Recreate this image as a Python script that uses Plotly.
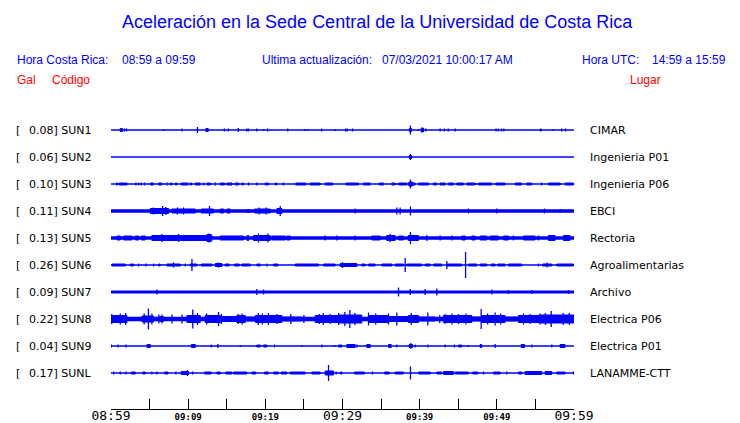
import plotly.graph_objects as go

# ---------------- data (time in minutes after 08:59, heights in px) ----------------
STATIONS = ["SUN1", "SUN2", "SUN3", "SUN4", "SUN5", "SUN6", "SUN7", "SUN8", "SUN9", "SUNL"]
GAL = ["0.08", "0.06", "0.10", "0.11", "0.13", "0.26", "0.09", "0.22", "0.04", "0.17"]
PLACES = ["CIMAR", "Ingenieria P01", "Ingenieria P06", "EBCI", "Rectoria",
          "Agroalimentarias", "Archivo", "Electrica P06", "Electrica P01", "LANAMME-CTT"]
NOISE_PX = [1.3, 1.3, 1.3, 3.3, 3.3, 1.3, 3.0, 4.5, 1.3, 1.3]

TICK_MIN = [0, 5, 10, 15, 20, 25, 30, 35, 40, 45, 50, 55, 60]
TICK_TEXT = ["08:59", "", "09:09", "", "09:19", "", "09:29", "", "09:39", "", "09:49", "", "09:59"]
TICK_BIG = [True, False, False, False, False, False, True, False, False, False, False, False, True]

SUN1_BLOCKS = [[1.2, 1.5, 4], [12.3, 12.6, 4], [38.65, 38.95, 4], [40.2, 40.5, 5], [55.6, 55.8, 3]]
SUN1_SPIKES = [[1.76, 3], [2.02, 3], [6.8, 2], [9.2, 3], [11.2, 6], [14.7, 3], [15.2, 3], [16.5, 4],
               [17.6, 3], [17.8, 3], [18.9, 3], [19.8, 2], [20.3, 3], [22.9, 3], [25.1, 2], [25.5, 2],
               [27.3, 3], [29.1, 2], [30.4, 3], [30.6, 3], [31.3, 3], [38.8, 9], [39.8, 2], [40.8, 3],
               [42.65, 3], [43.2, 3], [43.7, 3], [44.6, 3], [49.9, 3], [50.2, 3], [50.6, 3], [50.9, 3],
               [57.3, 2], [58.4, 3], [58.9, 3]]

SUN2_BLOCKS = [[38.65, 38.95, 4]]
SUN2_SPIKES = [[38.8, 6]]

SUN3_BLOCKS = [[0.7, 0.85, 3], [1.07, 2.07, 3], [5.09, 5.52, 3], [6.17, 6.6, 3], [7.68, 7.9, 3],
               [8.33, 8.54, 3], [9.1, 9.97, 3], [10.27, 10.49, 3], [10.92, 11.57, 3], [12.43, 12.86, 3],
               [14.16, 14.72, 3], [15.02, 15.67, 3], [16.1, 16.53, 3], [16.96, 17.18, 3], [19.98, 20.42, 3],
               [21.28, 21.5, 3], [23.96, 25.25, 3], [25.81, 27.1, 3], [27.76, 28.75, 3], [30.43, 32.07, 3],
               [32.72, 33.59, 3], [34.75, 35.31, 3], [36.39, 36.82, 3], [37.26, 38.34, 3], [38.6, 39.1, 5],
               [39.1, 39.42, 3], [39.85, 41.14, 3], [41.79, 42.22, 3], [42.65, 43.3, 3], [43.73, 44.38, 3],
               [44.81, 45.68, 3], [46.11, 47.19, 3], [47.62, 49.35, 3], [49.86, 51.07, 3], [52.37, 53.23, 3],
               [53.88, 54.53, 3], [56.69, 58.2, 3], [58.84, 59.92, 3]]
SUN3_SPIKES = [[3.23, 3], [3.58, 3], [3.92, 3], [4.35, 3], [7.25, 3], [12.0, 3], [13.51, 3], [17.83, 3],
               [18.9, 3], [22.36, 3], [55.82, 3], [38.8, 9]]

SUN4_BLOCKS = [[5.09, 7.46, 6], [7.9, 10.92, 5], [11.7, 13.29, 5], [14.16, 14.59, 5], [15.02, 15.45, 5],
               [17.61, 17.91, 4], [18.6, 20.63, 5], [21.5, 22.14, 6]]
SUN4_SPIKES = [[5.5, 7], [6.69, 10], [7.1, 8], [8.6, 7], [9.4, 7], [12.77, 10], [19.2, 7], [20.1, 7],
               [21.93, 10], [31.64, 5], [37.04, 7], [37.47, 7], [38.81, 9],
               [46.32, 5], [49.99, 5], [56.17, 5], [58.2, 4]]

SUN5_BLOCKS = [[0.77, 1.2, 5], [1.63, 2.71, 5], [3.15, 3.58, 5], [3.92, 4.44, 5], [5.3, 13.08, 6],
               [12.43, 12.99, 8], [14.16, 17.18, 5], [17.64, 17.84, 6], [18.47, 20.63, 6], [20.85, 22.58, 5],
               [22.79, 23.22, 5], [33.8, 34.88, 5], [35.74, 36.82, 6], [37.26, 37.9, 5], [38.55, 39.85, 6],
               [45.46, 45.89, 5], [46.76, 47.19, 5], [47.84, 48.7, 5], [49.13, 50.21, 5], [50.86, 51.5, 5],
               [53.45, 54.96, 5], [56.69, 57.55, 6], [58.63, 59.49, 6]]
SUN5_SPIKES = [[6.6, 8], [8.76, 8], [12.7, 9], [19.12, 9], [20.33, 9], [27.76, 5], [29.27, 5], [31.64, 5],
               [36.18, 8], [38.81, 12], [40.93, 6], [42.65, 5], [44.17, 5], [52.15, 5], [55.39, 5]]

SUN6_BLOCKS = [[0.12, 1.85, 3], [2.5, 2.93, 3], [6.17, 6.38, 3], [7.25, 8.97, 3], [10.27, 11.13, 3],
               [11.7, 13.08, 3], [13.51, 14.37, 4], [14.8, 15.32, 3], [16.01, 16.62, 3], [16.96, 18.04, 3],
               [18.9, 19.34, 3], [21.06, 21.63, 3], [23.87, 26.89, 3], [27.54, 29.05, 3], [29.7, 31.86, 4],
               [32.5, 32.94, 3], [33.37, 34.23, 3], [35.1, 36.39, 3], [36.82, 37.9, 3], [38.34, 40.28, 3],
               [40.71, 41.36, 3], [41.79, 42.87, 3], [43.52, 45.46, 3], [46.32, 47.4, 3], [47.84, 48.7, 3],
               [49.26, 49.78, 3], [50.12, 51.07, 3], [51.5, 53.23, 3], [55.91, 57.12, 3], [57.77, 59.92, 3]]
SUN6_SPIKES = [[3.58, 3], [4.53, 3], [5.52, 3], [8.1, 5], [9.62, 3], [10.49, 12], [13.9, 5], [20.2, 3],
               [30.0, 6], [38.12, 14], [43.52, 8], [45.95, 26], [55.39, 3], [56.5, 5]]

SUN7_BLOCKS = []
SUN7_SPIKES = [[5.95, 5], [18.9, 6], [19.77, 5], [37.26, 9], [38.77, 6], [40.71, 6], [42.22, 7],
               [49.35, 5], [51.5, 4], [54.53, 4], [59.28, 4]]

SUN8_BLOCKS = [[0.0, 2.07, 8], [4.01, 5.52, 7], [6.3, 6.8, 6], [9.84, 11.57, 8], [12.2, 14.16, 8],
               [14.16, 16.31, 6], [16.31, 17.4, 8], [17.4, 18.7, 5], [18.7, 22.14, 8], [22.14, 23.87, 5],
               [23.87, 24.73, 5], [26.46, 29.48, 8], [29.48, 32.5, 9], [33.37, 35.96, 8], [35.96, 38.55, 6],
               [38.55, 39.85, 8], [39.85, 42.0, 5], [43.09, 46.76, 8], [46.76, 48.05, 5], [48.05, 51.07, 8],
               [51.07, 52.8, 5], [52.8, 55.39, 8], [55.39, 57.98, 9], [57.98, 60.0, 9]]
SUN8_SPIKES = [[0.1, 10], [1.2, 11], [1.9, 12], [4.3, 11], [4.85, 21], [5.3, 11], [6.2, 9], [6.6, 9],
               [7.9, 9], [9.2, 9], [10.6, 19], [11.2, 12], [12.4, 11], [13.94, 14], [14.3, 10], [16.5, 10],
               [17.0, 11], [19.1, 12], [19.6, 11], [20.4, 12], [21.5, 10], [23.3, 10], [25.0, 8],
               [27.0, 10], [27.5, 12], [28.4, 10], [29.5, 12], [30.3, 14], [30.95, 18], [31.6, 12],
               [33.37, 13], [34.3, 11], [35.96, 11], [37.04, 13], [38.9, 12], [41.06, 13], [42.6, 8],
               [43.3, 10], [44.2, 11], [45.03, 10], [46.0, 11], [47.97, 20], [48.8, 11], [49.78, 13],
               [50.5, 11], [53.45, 11], [54.3, 10], [55.6, 11], [56.3, 12], [57.05, 16], [58.6, 12],
               [59.4, 12]]

SUN9_BLOCKS = [[4.66, 5.09, 4], [10.4, 10.92, 4], [18.9, 19.34, 3], [19.77, 20.2, 3], [29.48, 29.92, 3],
               [30.56, 31.64, 4], [33.15, 33.59, 4], [35.96, 36.31, 4], [38.64, 39.07, 4], [45.03, 45.46, 3],
               [47.84, 48.05, 4], [53.15, 53.58, 4], [58.2, 58.84, 4]]
SUN9_SPIKES = [[0.04, 3], [0.9, 3], [1.94, 3], [12.99, 3], [13.85, 4], [16.75, 2], [21.19, 3], [24.73, 2],
               [27.33, 3], [28.97, 2], [31.86, 3], [37.04, 3], [38.85, 6], [39.42, 3], [41.06, 3],
               [43.3, 3], [44.51, 3], [46.32, 2], [49.78, 4], [54.53, 3], [57.12, 3]]

SUNL_BLOCKS = [[2.63, 3.15, 3], [4.1, 4.44, 3], [6.95, 7.38, 3], [9.1, 10.05, 4], [12.13, 12.99, 3],
               [13.72, 14.16, 3], [14.89, 15.67, 3], [15.88, 17.61, 3], [18.26, 18.78, 3], [19.9, 20.42, 3],
               [21.06, 21.71, 3], [22.06, 22.79, 3], [23.22, 25.17, 3], [26.03, 27.11, 3], [27.76, 28.84, 5],
               [29.7, 29.92, 3], [31.56, 32.85, 3], [35.44, 36.05, 3], [36.82, 37.9, 3], [39.85, 41.36, 3],
               [42.22, 42.87, 3], [43.09, 44.38, 4], [44.6, 46.32, 3], [46.88, 47.53, 3], [49.56, 50.43, 3],
               [52.8, 53.23, 3], [53.66, 55.82, 4], [56.26, 57.12, 4], [57.77, 58.84, 3]]
SUNL_SPIKES = [[0.34, 3], [1.2, 3], [1.94, 3], [5.3, 3], [5.95, 3], [8.41, 3], [9.9, 6], [10.57, 3],
               [28.19, 16], [29.18, 3], [33.89, 3], [38.81, 13], [48.27, 3], [51.29, 3], [59.92, 3]]

BLOCKS = [SUN1_BLOCKS, SUN2_BLOCKS, SUN3_BLOCKS, SUN4_BLOCKS, SUN5_BLOCKS,
          SUN6_BLOCKS, SUN7_BLOCKS, SUN8_BLOCKS, SUN9_BLOCKS, SUNL_BLOCKS]
SPIKES = [SUN1_SPIKES, SUN2_SPIKES, SUN3_SPIKES, SUN4_SPIKES, SUN5_SPIKES,
          SUN6_SPIKES, SUN7_SPIKES, SUN8_SPIKES, SUN9_SPIKES, SUNL_SPIKES]

# ---------------- layout geometry ----------------
W, H = 740, 423
X0, X1 = 111, 574          # pixel span of the time axis
YTOP, YBOT = 110, 409      # pixel span of the plot area (y data == pixel row)
ROW0, ROWSTEP = 130, 27
BLUE = "#0000ff"
RED = "#ff0000"


def px_x(p):
    return (p - X0) / (X1 - X0)


def px_y(p):
    return (YBOT - p) / (YBOT - YTOP)


fig = go.Figure()

for i, code in enumerate(STATIONS):
    yc = ROW0 + ROWSTEP * i
    fig.add_trace(go.Scatter(x=[0, 60.1], y=[yc, yc], mode="lines",
                             line=dict(color=BLUE, width=NOISE_PX[i]), hoverinfo="skip"))
    bx, by = [], []
    for t0, t1, h in BLOCKS[i]:
        if t1 - t0 < 0.1:
            t1 = t0 + 0.1
        hh = max(h - 1, 0.5) / 2
        bx += [t0, t1, t1, t0, t0, None]
        by += [yc - hh, yc - hh, yc + hh, yc + hh, yc - hh, None]
    if bx:
        fig.add_trace(go.Scatter(x=bx, y=by, mode="lines", fill="toself", fillcolor=BLUE,
                                 line=dict(color=BLUE, width=1), hoverinfo="skip"))
    sx, sy = [], []
    for t, h in SPIKES[i]:
        sx += [t, t, None]
        sy += [yc - h / 2, yc + h / 2, None]
    fig.add_trace(go.Scatter(x=sx, y=sy, mode="lines",
                             line=dict(color=BLUE, width=1.3), hoverinfo="skip"))

ann = []


def text(px, py, s, color="black", size=11, family="DejaVu Sans", anchor="left"):
    ann.append(dict(x=px_x(px), y=px_y(py), xref="paper", yref="paper", text=s, showarrow=False,
                    xanchor=anchor, yanchor="middle", font=dict(color=color, size=size, family=family)))


text(377, 22, "Aceleración en la Sede Central de la Universidad de Costa Rica",
     BLUE, 18, "Liberation Sans", "center")
text(15, 60, "Hora Costa Rica:", BLUE, 12, "Liberation Sans")
text(120, 60, "08:59 a 09:59", BLUE, 12, "Liberation Sans")
text(260, 60, "Ultima actualización:", BLUE, 12, "Liberation Sans")
text(380, 60, "07/03/2021 10:00:17 AM", BLUE, 12, "Liberation Sans")
text(580, 60, "Hora UTC:", BLUE, 12, "Liberation Sans")
text(650, 60, "14:59 a 15:59", BLUE, 12, "Liberation Sans")
text(15, 80, "Gal", RED, 12, "Liberation Sans")
text(50, 80, "Código", RED, 12, "Liberation Sans")
text(628, 80, "Lugar", RED, 12, "Liberation Sans")

for i, code in enumerate(STATIONS):
    yc = ROW0 + ROWSTEP * i
    text(14, yc, "[")
    text(27, yc, GAL[i] + "] " + code)
    text(588, yc, PLACES[i])

for a in ann:
    fig.add_annotation(**a)

ticktext = []
for lab, big in zip(TICK_TEXT, TICK_BIG):
    if lab == "" or big:
        ticktext.append(lab)
    else:
        ticktext.append('<span style="font-size:9px"><b>' + lab + '</b></span>')

fig.update_layout(
    width=W, height=H, margin=dict(l=X0, r=W - X1, t=YTOP, b=H - YBOT, pad=0),
    paper_bgcolor="white", plot_bgcolor="white", showlegend=False,
    xaxis=dict(range=[0, 60], tickvals=TICK_MIN, ticktext=ticktext, ticks="inside", ticklen=10,
               tickcolor="black", tickwidth=1, showline=True, linecolor="black", linewidth=1,
               showgrid=False, zeroline=False, fixedrange=True, automargin=False,
               ticklabelstandoff=-6,
               tickfont=dict(family="DejaVu Sans Mono", size=13, color="black")),
    yaxis=dict(range=[YBOT, YTOP], visible=False, fixedrange=True, automargin=False),
)

fig.write_html("out.html", config={"displayModeBar": False},
               post_script="document.body.style.margin='0px';")
